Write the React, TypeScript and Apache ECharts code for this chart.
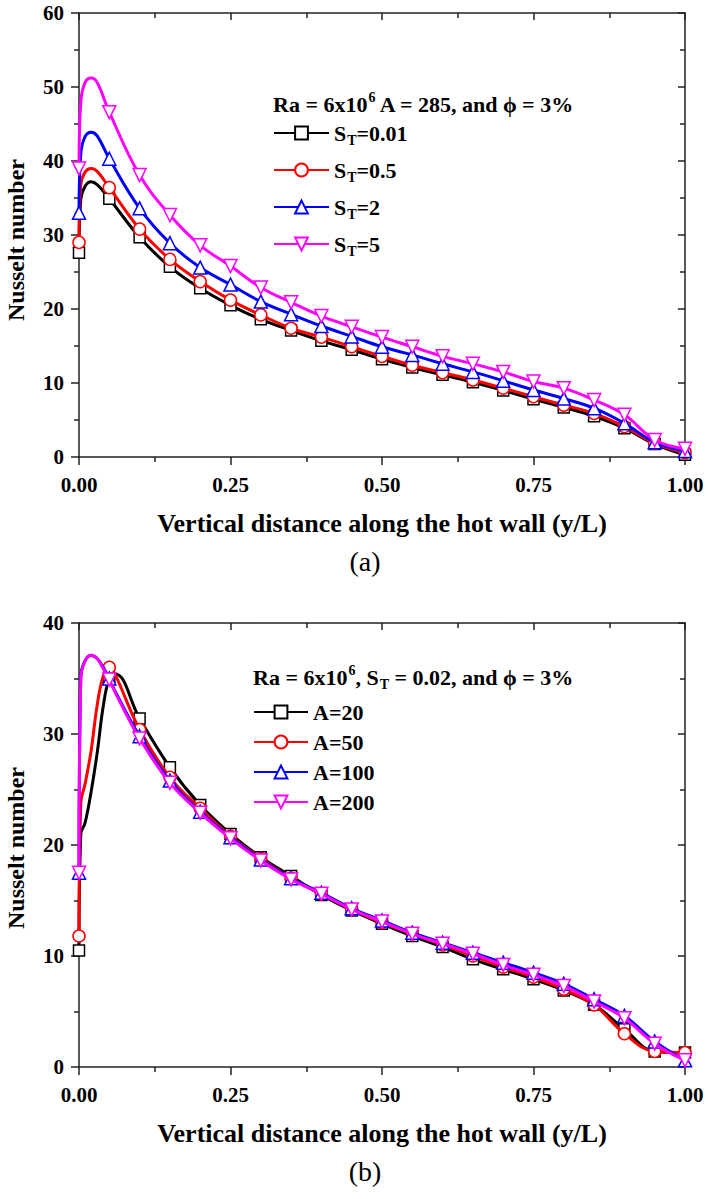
import React, { useEffect, useRef } from "react";
import * as echarts from "echarts";

// ---------- data ----------
// Panel (a): Ra = 6x10^6, A = 285, phi = 3%
const topX = [0, 0.003, 0.01, 0.02, 0.03, 0.05, 0.1, 0.15, 0.2, 0.25, 0.3, 0.35, 0.4, 0.45, 0.5, 0.55, 0.6, 0.65, 0.7, 0.75, 0.8, 0.85, 0.9, 0.95, 1.0];
const topSt001 = [27.6, 34.8, 36.6, 37.2, 36.8, 34.9, 29.7, 25.7, 22.8, 20.5, 18.6, 17.1, 15.7, 14.5, 13.2, 12.1, 11.1, 10.1, 9.0, 7.8, 6.7, 5.5, 3.9, 1.75, 0.3];
const topSt05 = [29.0, 36.8, 38.5, 39.0, 38.6, 36.4, 30.8, 26.7, 23.7, 21.2, 19.2, 17.4, 16.2, 14.9, 13.6, 12.4, 11.4, 10.4, 9.3, 8.15, 7.0, 5.9, 4.1, 1.85, 0.6];
const topSt2 = [33.0, 41.0, 43.3, 43.9, 43.4, 40.3, 33.6, 28.9, 25.6, 23.3, 21.0, 19.3, 17.7, 16.3, 14.9, 13.8, 12.6, 11.5, 10.3, 9.05, 7.9, 6.6, 4.55, 2.0, 0.8];
const topSt5 = [39.0, 48.0, 50.6, 51.2, 50.6, 46.6, 38.1, 32.7, 28.6, 25.8, 22.9, 20.9, 19.05, 17.6, 16.2, 14.9, 13.6, 12.6, 11.5, 10.2, 9.3, 7.7, 5.7, 2.3, 1.1];
const topNames = ["S_T=0.01", "S_T=0.5", "S_T=2", "S_T=5"];

// Panel (b): Ra = 6x10^6, S_T = 0.02, phi = 3%
const bottomX = [0, 0.003, 0.01, 0.02, 0.03, 0.04, 0.05, 0.06, 0.1, 0.15, 0.2, 0.25, 0.3, 0.35, 0.4, 0.45, 0.5, 0.55, 0.6, 0.65, 0.7, 0.75, 0.8, 0.85, 0.9, 0.95, 1.0];
const bottomA20 = [10.5, 21.0, 22.0, 24.8, 28.3, 32.5, 35.0, 35.4, 31.4, 27.0, 23.6, 21.0, 18.9, 17.2, 15.5, 14.1, 12.9, 11.8, 10.8, 9.7, 8.8, 7.9, 6.9, 5.6, 3.4, 1.4, 1.3];
const bottomA50 = [11.8, 23.8, 25.5, 28.5, 32.6, 35.2, 36.0, 35.3, 30.4, 26.1, 23.3, 20.8, 18.8, 17.0, 15.6, 14.2, 13.0, 12.0, 11.0, 10.0, 9.0, 8.1, 7.0, 5.6, 3.0, 1.4, 1.3];
const bottomA100 = [17.5, 35.2, 36.6, 37.1, 36.8, 36.0, 35.0, 33.8, 29.8, 25.8, 23.0, 20.7, 18.7, 17.0, 15.7, 14.3, 13.2, 12.1, 11.2, 10.3, 9.4, 8.5, 7.5, 6.1, 4.6, 2.3, 0.6];
const bottomA200 = [17.5, 35.0, 36.6, 37.1, 36.8, 35.9, 34.9, 33.7, 29.6, 25.6, 22.9, 20.6, 18.6, 16.9, 15.6, 14.2, 13.1, 12.0, 11.1, 10.2, 9.2, 8.3, 7.3, 5.9, 4.4, 2.1, 0.6];
const bottomNames = ["A=20", "A=50", "A=100", "A=200"];

const xAxisTitle = "Vertical distance along the hot wall (y/L)";
const yAxisTitle = "Nusselt number";

// ---------- styles ----------
const SERIF = "Liberation Serif";
const COLORS = ["#000000", "#ff0000", "#0000ff", "#ff00ff"];
const SYMBOLS = ["rect", "circle", "triangle", "triangle"];
const ROTATE = [0, 0, 0, 180];
const SIZES = [11, 12, 13, 13];
const AX = "#222";

function makeSeries(name: string, xs: number[], ys: number[], idx: number, g: number) {
  const data = xs.map((x, i) => {
    const isMarker = Math.abs(x * 20 - Math.round(x * 20)) < 1e-6;
    return isMarker ? { value: [x, ys[i]] } : { value: [x, ys[i]], symbol: "none" };
  });
  return {
    type: "line",
    name,
    xAxisIndex: g * 2,
    yAxisIndex: g * 2,
    data,
    smooth: 0.4,
    symbol: SYMBOLS[idx],
    symbolRotate: ROTATE[idx],
    symbolSize: SIZES[idx],
    showAllSymbol: true,
    lineStyle: { color: COLORS[idx], width: 3 },
    itemStyle: { color: "#ffffff", borderColor: COLORS[idx], borderWidth: 1.5 },
    emphasis: { disabled: true },
    z: 2 + idx,
  };
}

function xAxes(g: number) {
  const line = { color: AX, width: 1.5 };
  const common = {
    type: "value",
    gridIndex: g,
    min: 0,
    max: 1,
    interval: 0.25,
    splitLine: { show: false },
    axisLine: { show: true, onZero: false, lineStyle: line },
    minorTick: { show: true, splitNumber: 2, length: 5, lineStyle: line },
  };
  return [
    {
      ...common,
      position: "bottom",
      axisTick: { show: true, inside: false, length: 8, lineStyle: line },
      axisLabel: {
        show: true,
        margin: 17,
        formatter: (v: number) => v.toFixed(2),
        color: "#000",
        fontFamily: SERIF,
        fontWeight: "bold",
        fontSize: 21,
      },
    },
    {
      ...common,
      position: "top",
      axisTick: { show: true, inside: true, length: 7, lineStyle: line },
      axisLabel: { show: false },
    },
  ];
}

function yAxes(g: number, max: number) {
  const line = { color: AX, width: 1.5 };
  const common = {
    type: "value",
    gridIndex: g,
    min: 0,
    max,
    interval: 10,
    splitLine: { show: false },
    axisLine: { show: true, onZero: false, lineStyle: line },
    minorTick: { show: true, splitNumber: 2, length: 5, lineStyle: line },
  };
  return [
    {
      ...common,
      position: "left",
      axisTick: { show: true, inside: false, length: 8, lineStyle: line },
      axisLabel: {
        show: true,
        margin: 15,
        color: "#000",
        fontFamily: SERIF,
        fontWeight: "bold",
        fontSize: 21,
      },
    },
    {
      ...common,
      position: "right",
      axisTick: { show: true, inside: true, length: 7, lineStyle: line },
      axisLabel: { show: false },
    },
  ];
}

const richBase = { fontFamily: SERIF, fontWeight: "bold", color: "#000" };

function legendFor(names: string[], left: number, top: number, itemWidth: number, gap: number, rich: boolean) {
  const base: any = {
    show: true,
    orient: "vertical",
    left,
    top,
    padding: 0,
    itemWidth,
    itemHeight: 16,
    itemGap: gap,
    selectedMode: false,
    data: names,
    textStyle: { ...richBase, fontSize: 22, lineHeight: 26 },
  };
  if (rich) {
    base.formatter = (name: string) => `{s|S}{t|T}{s|=${name.split("=")[1]}}`;
    base.textStyle.rich = {
      s: { ...richBase, fontSize: 22, lineHeight: 26 },
      t: { ...richBase, fontSize: 14, lineHeight: 14, padding: [14, 0, 0, 1] },
    };
  }
  return base;
}

function titleText(x: number, y: number, text: string) {
  return {
    type: "text",
    x,
    y,
    style: {
      text,
      align: "left",
      verticalAlign: "middle",
      rich: {
        a: { ...richBase, fontSize: 22, lineHeight: 26 },
        sup: { ...richBase, fontSize: 14, lineHeight: 14, padding: [0, 0, 14, 1] },
        sub: { ...richBase, fontSize: 14, lineHeight: 14, padding: [14, 0, 0, 1] },
      },
    },
  };
}

function plainText(x: number, y: number, text: string, size: number, bold: boolean, rotation = 0) {
  return {
    type: "text",
    x,
    y,
    rotation,
    style: {
      text,
      align: "center",
      verticalAlign: "middle",
      fontFamily: SERIF,
      fontWeight: bold ? "bold" : "normal",
      fontSize: size,
      fill: "#000",
    },
  };
}

export default function App() {
  const ref = useRef<HTMLDivElement>(null);
  useEffect(() => {
    if (!ref.current) return;
    const chart = echarts.init(ref.current, undefined, { renderer: "svg" });
    const topSeries = [topSt001, topSt05, topSt2, topSt5].map((ys, i) => makeSeries(topNames[i], topX, ys, i, 0));
    const bottomSeries = [bottomA20, bottomA50, bottomA100, bottomA200].map((ys, i) =>
      makeSeries(bottomNames[i], bottomX, ys, i, 1)
    );
    chart.setOption({
      animation: false,
      backgroundColor: "#ffffff",
      grid: [
        { left: 79, top: 13, width: 606, height: 444 },
        { left: 79, top: 623, width: 606, height: 444 },
      ],
      xAxis: [...xAxes(0), ...xAxes(1)],
      yAxis: [...yAxes(0, 60), ...yAxes(1, 40)],
      legend: [
        legendFor(topNames, 273, 119, 55, 9, true),
        legendFor(bottomNames, 253, 699, 54, 4, false),
      ],
      graphic: [
        titleText(273, 104, "{a|Ra = 6x10}{sup|6}{a| A = 285, and ϕ = 3%}"),
        titleText(253, 677, "{a|Ra = 6x10}{sup|6}{a|, S}{sub|T}{a| = 0.02, and ϕ = 3%}"),
        plainText(382, 523, xAxisTitle, 26, true),
        plainText(365, 561, "(a)", 28, false),
        plainText(382, 1133, xAxisTitle, 26, true),
        plainText(365, 1171, "(b)", 28, false),
        plainText(16, 240, yAxisTitle, 24, true, Math.PI / 2),
        plainText(16, 848, yAxisTitle, 24, true, Math.PI / 2),
      ],
      series: [...topSeries, ...bottomSeries],
    });
    return () => chart.dispose();
  }, []);
  return (
    <div
      ref={ref}
      style={{ position: "fixed", left: 0, top: 0, width: 708, height: 1199, background: "#fff" }}
    />
  );
}
